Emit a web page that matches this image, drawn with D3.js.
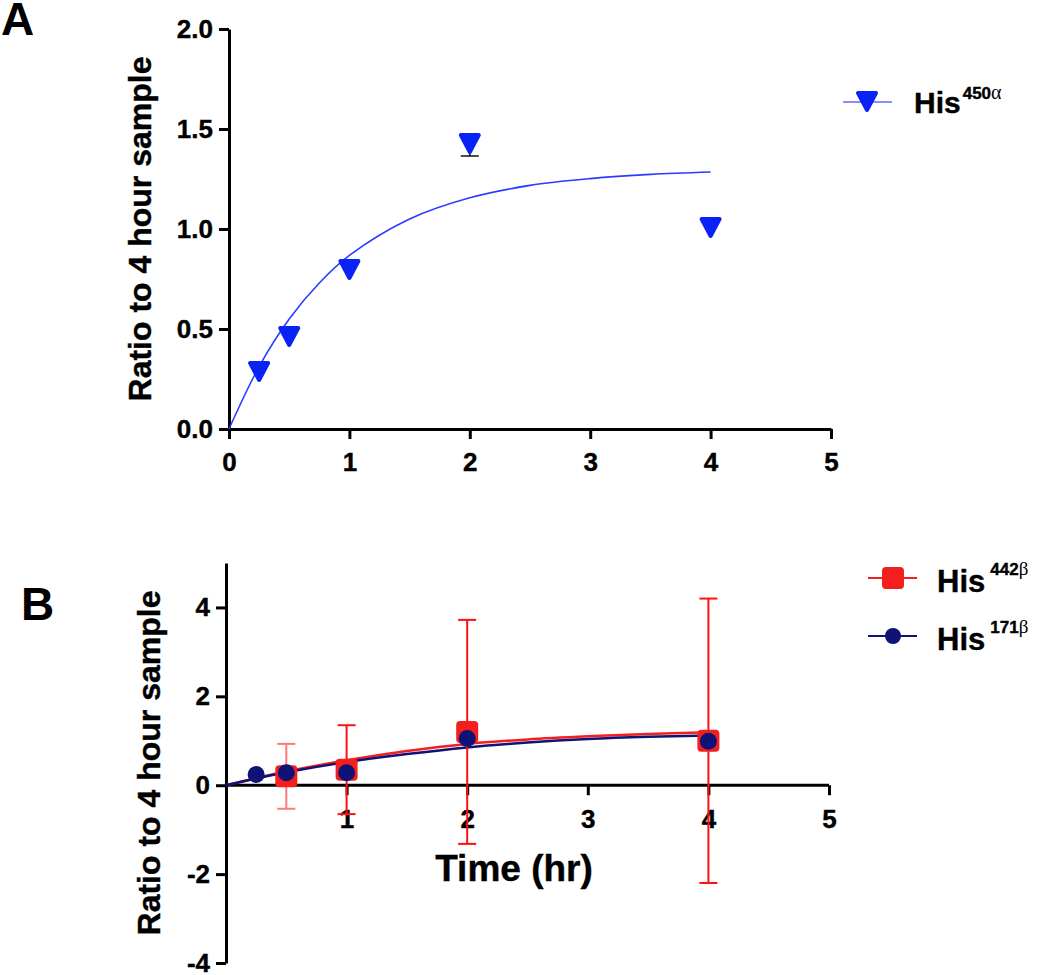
<!DOCTYPE html>
<html>
<head>
<meta charset="utf-8">
<script src="https://cdn.jsdelivr.net/npm/d3@7"></script>
<style>
  body { margin: 0; background: #fff; }
  svg { display: block; }
  text { font-family: "Liberation Sans", Arial, sans-serif; font-weight: bold; fill: #000; }
</style>
</head>
<body>
<svg id="chart" width="1050" height="975"></svg>
<script>
// ---------- Panel A data ----------
const timesA = [0.25, 0.5, 1, 2, 4];
const his450a = [0.29, 0.465, 0.80, 1.43, 1.01];
const his450aErr = [0, 0, 0, 0.065, 0];   // lower error (others hidden by marker)
const fitA_x = [0, 0.25, 0.5, 0.75, 1, 1.5, 2, 2.5, 3, 3.5, 4];
const fitA_y = [0, 0.312, 0.55, 0.73, 0.868, 1.05, 1.156, 1.218, 1.252, 1.273, 1.285];
const xTicksA = [0, 1, 2, 3, 4, 5];
const yTicksA = [0, 0.5, 1.0, 1.5, 2.0];

// ---------- Panel B data ----------
const timesB442 = [0.5, 1, 2, 4];
const his442b = [0.2, 0.35, 1.2, 1.0];
const his442bErr = [0.73, 1.0, 2.52, 3.2];
const timesB171 = [0.25, 0.5, 1, 2, 4];
const his171b = [0.24, 0.28, 0.28, 1.05, 0.99];
const fitB_x = [0, 0.25, 0.5, 1, 1.5, 2, 2.5, 3, 3.5, 4];
const fitB442_y = [0, 0.16, 0.31, 0.56, 0.77, 0.93, 1.03, 1.10, 1.155, 1.19];
const fitB171_y = [0, 0.15, 0.29, 0.52, 0.70, 0.85, 0.96, 1.04, 1.09, 1.12];
const xTicksB = [1, 2, 3, 4, 5];
const yTicksB = [4, 2, 0, -2, -4];

const blueA = "#0a22f5";
const blueACurve = "#2a3cff";
const red = "#f51e1e";
const navy = "#0f1277";

const svg = d3.select("#chart");

function styleAxis(g) {
  g.select(".domain").attr("stroke", "#000").attr("stroke-width", 3);
  g.selectAll(".tick line").attr("stroke", "#000").attr("stroke-width", 3);
  g.selectAll(".tick text").style("font-size", "26px").style("font-family", "'Liberation Sans', Arial, sans-serif").style("font-weight", "bold").attr("fill", "#000")
    .attr("stroke", "#000").attr("stroke-width", 0.4);
}

// ================= Panel A =================
const xA = d3.scaleLinear().domain([0, 5]).range([229, 831]);
const yA = d3.scaleLinear().domain([0, 2]).range([429, 29]);

svg.append("text").attr("x", 1).attr("y", 35).style("font-size", "46px").text("A");

const gAx = svg.append("g").attr("transform", `translate(0,${yA(0)})`)
  .call(d3.axisBottom(xA).tickValues(xTicksA).tickSize(10).tickPadding(14).tickSizeOuter(0).tickFormat(d => String(d)));
styleAxis(gAx);
const gAy = svg.append("g").attr("transform", `translate(${xA(0)},0)`)
  .call(d3.axisLeft(yA).tickValues(yTicksA).tickSize(10).tickPadding(6).tickSizeOuter(0).tickFormat(d3.format(".1f")));
styleAxis(gAy);

svg.append("text")
  .attr("transform", `translate(151,${(yA(0) + yA(2)) / 2}) rotate(-90)`)
  .attr("text-anchor", "middle").style("font-size", "32px")
  .attr("stroke", "#000").attr("stroke-width", 0.4)
  .text("Ratio to 4 hour sample");

// fit curve A
const lineA = d3.line().x((d, i) => xA(fitA_x[i])).y(d => yA(d)).curve(d3.curveCatmullRom);
svg.append("path").datum(fitA_y).attr("d", lineA).attr("fill", "none")
  .attr("stroke", blueACurve).attr("stroke-width", 1.6);

// error bars A (lower half only, as in the reference)
const errA = svg.append("g");
timesA.forEach((t, i) => {
  if (his450aErr[i] <= 0) return;
  const x = xA(t), y0 = yA(his450a[i]), y1 = yA(his450a[i] - his450aErr[i]);
  errA.append("line").attr("x1", x).attr("x2", x).attr("y1", y0).attr("y2", y1).attr("stroke", "#111").attr("stroke-width", 1.5);
  errA.append("line").attr("x1", x - 9).attr("x2", x + 9).attr("y1", y1).attr("y2", y1).attr("stroke", "#111").attr("stroke-width", 1.5);
});

const triPath = "M-9,-8 L9,-8 L0,9 Z";
svg.append("g").selectAll("path.tri").data(his450a).join("path")
  .attr("d", triPath)
  .attr("transform", (d, i) => `translate(${xA(timesA[i])},${yA(d)})`)
  .attr("fill", blueA).attr("stroke", blueA).attr("stroke-width", 4).attr("stroke-linejoin", "round");

// legend A
svg.append("line").attr("x1", 843).attr("x2", 892).attr("y1", 102).attr("y2", 102).attr("stroke", "#5a6cff").attr("stroke-width", 1.5);
svg.append("path").attr("d", triPath).attr("transform", "translate(867,101)")
  .attr("fill", blueA).attr("stroke", blueA).attr("stroke-width", 4).attr("stroke-linejoin", "round");
const lgA = svg.append("text").attr("x", 914).attr("y", 113).style("font-size", "30px").attr("stroke", "#000").attr("stroke-width", 0.4).text("His");
lgA.append("tspan").attr("dx", 2).attr("dy", -14).style("font-size", "17px").text("450");
lgA.append("tspan").style("font-size", "20px").style("font-family", "'Liberation Serif', serif").style("font-weight", "normal").attr("stroke-width", 0).text("α");

// ================= Panel B =================
const xB = d3.scaleLinear().domain([0, 5]).range([226, 829]);
const yB = d3.scaleLinear().domain([-4, 5]).range([963, 563]);

svg.append("text").attr("x", 21).attr("y", 620).style("font-size", "46px").text("B");

const gBx = svg.append("g").attr("transform", `translate(0,${yB(0)})`)
  .call(d3.axisBottom(xB).tickValues(xTicksB).tickSize(10).tickPadding(14).tickSizeOuter(0).tickFormat(d => String(d)));
styleAxis(gBx);
gBx.select(".domain").attr("d", `M${xB(0)},0H${xB(5)}`);
const gBy = svg.append("g").attr("transform", `translate(${xB(0)},0)`)
  .call(d3.axisLeft(yB).tickValues(yTicksB).tickSize(10).tickPadding(6).tickSizeOuter(0).tickFormat(d => String(d)));
styleAxis(gBy);

svg.append("text")
  .attr("transform", `translate(160,${(yB(-4) + yB(5)) / 2}) rotate(-90)`)
  .attr("text-anchor", "middle").style("font-size", "32px")
  .attr("stroke", "#000").attr("stroke-width", 0.4)
  .text("Ratio to 4 hour sample");

svg.append("text").attr("x", 514).attr("y", 881).attr("text-anchor", "middle").style("font-size", "37px")
  .attr("stroke", "#000").attr("stroke-width", 0.4).text("Time (hr)");

// curves B
const lineB = d3.line().x((d, i) => xB(fitB_x[i])).y(d => yB(d)).curve(d3.curveCatmullRom);
svg.append("path").datum(fitB442_y).attr("d", lineB).attr("fill", "none").attr("stroke", red).attr("stroke-width", 2.5);
svg.append("path").datum(fitB171_y).attr("d", lineB).attr("fill", "none").attr("stroke", navy).attr("stroke-width", 2.5);

// error bars B (red)
const errB = svg.append("g");
timesB442.forEach((t, i) => {
  const x = xB(t), y1 = yB(his442b[i] - his442bErr[i]), y2 = yB(his442b[i] + his442bErr[i]);
  const c = i === 0 ? "#ff7a7a" : "#ff1010";
  errB.append("line").attr("x1", x).attr("x2", x).attr("y1", y1).attr("y2", y2).attr("stroke", c).attr("stroke-width", 2);
  errB.append("line").attr("x1", x - 9).attr("x2", x + 9).attr("y1", y1).attr("y2", y1).attr("stroke", c).attr("stroke-width", 2);
  errB.append("line").attr("x1", x - 9).attr("x2", x + 9).attr("y1", y2).attr("y2", y2).attr("stroke", c).attr("stroke-width", 2);
});

// red squares
svg.append("g").selectAll("rect").data(his442b).join("rect")
  .attr("x", (d, i) => xB(timesB442[i]) - 11).attr("y", d => yB(d) - 11)
  .attr("width", 22).attr("height", 22).attr("rx", 4)
  .attr("fill", red);

// navy circles
svg.append("g").selectAll("circle").data(his171b).join("circle")
  .attr("cx", (d, i) => xB(timesB171[i])).attr("cy", d => yB(d)).attr("r", 8.5)
  .attr("fill", navy);

// legend B
svg.append("line").attr("x1", 868).attr("x2", 917).attr("y1", 578).attr("y2", 578).attr("stroke", red).attr("stroke-width", 2);
svg.append("rect").attr("x", 893 - 11).attr("y", 578 - 11).attr("width", 22).attr("height", 22).attr("rx", 4).attr("fill", red);
const lgB1 = svg.append("text").attr("x", 937).attr("y", 592).style("font-size", "31px").attr("stroke", "#000").attr("stroke-width", 0.4).text("His");
lgB1.append("tspan").attr("dx", 5).attr("dy", -17).style("font-size", "17px").text("442");
lgB1.append("tspan").style("font-size", "19px").style("font-family", "'Liberation Serif', serif").style("font-weight", "normal").attr("stroke-width", 0).text("β");

svg.append("line").attr("x1", 868).attr("x2", 917).attr("y1", 636).attr("y2", 636).attr("stroke", navy).attr("stroke-width", 2);
svg.append("circle").attr("cx", 893).attr("cy", 636).attr("r", 8).attr("fill", navy);
const lgB2 = svg.append("text").attr("x", 937).attr("y", 650).style("font-size", "31px").attr("stroke", "#000").attr("stroke-width", 0.4).text("His");
lgB2.append("tspan").attr("dx", 5).attr("dy", -17).style("font-size", "17px").text("171");
lgB2.append("tspan").style("font-size", "19px").style("font-family", "'Liberation Serif', serif").style("font-weight", "normal").attr("stroke-width", 0).text("β");
</script>
</body>
</html>
